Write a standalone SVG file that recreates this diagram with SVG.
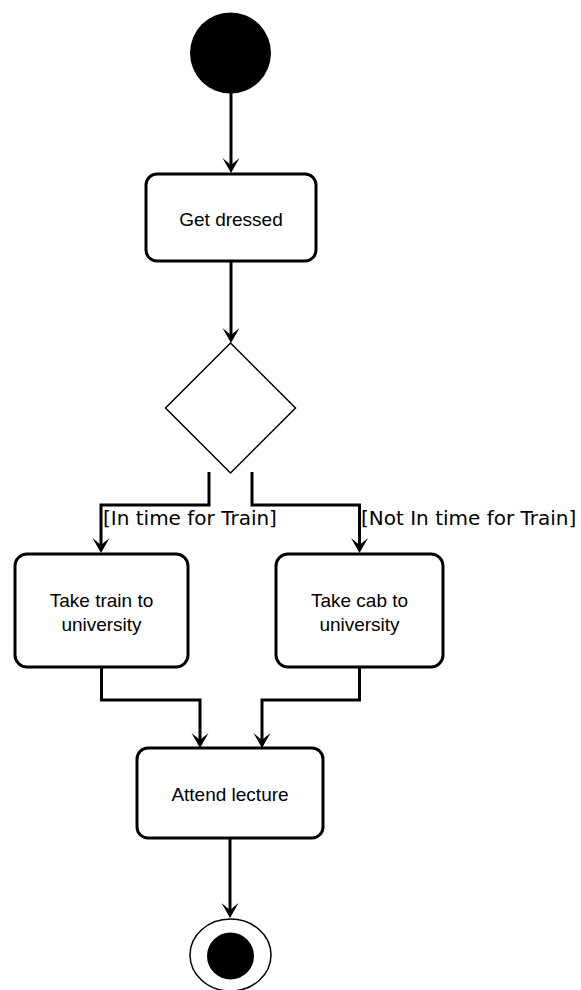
<svg xmlns="http://www.w3.org/2000/svg" width="581" height="990" viewBox="0 0 581 990">
  <style>
    .action { fill: #ffffff; stroke: #000000; stroke-width: 3; }
    .label { font-family: "Liberation Sans", Arial, sans-serif; font-size: 19px; fill: #000000; text-anchor: middle; }
    .guard { font-family: "DejaVu Sans", Verdana, sans-serif; font-size: 20px; fill: #000000; }
    .flow { fill: none; stroke: #000000; stroke-width: 3; marker-end: url(#arrow); }
  </style>
  <defs>
    <marker id="arrow" markerUnits="userSpaceOnUse" markerWidth="40" markerHeight="40" refX="0" refY="0" orient="auto" overflow="visible">
      <path d="M8,0 L-7,-8.5 L0,0 L-7,8.5 Z" fill="#000000"/>
    </marker>
  </defs>

  <!-- control flows -->
  <g id="connectors">
    <path class="flow" d="M231,93 V165"/>
    <path class="flow" d="M231,262 V335"/>
    <path class="flow" d="M209,472 V505 H101 V545"/>
    <path class="flow" d="M252,472 V505 H359.5 V545"/>
    <path class="flow" d="M101.5,667 V700 H200 V740"/>
    <path class="flow" d="M359.5,667 V700 H262 V740"/>
    <path class="flow" d="M230,838 V910"/>
    <text class="guard" x="103" y="525">[In time for Train]</text>
    <text class="guard" x="361" y="525">[Not In time for Train]</text>
  </g>

  <g id="start">
    <circle cx="230.5" cy="53" r="40.5" fill="#000000"/>
  </g>

  <g id="get-dressed">
    <rect class="action" x="146" y="174" width="170" height="87" rx="11"/>
    <text class="label" x="231" y="226">Get dressed</text>
  </g>

  <g id="decision">
    <polygon points="230.5,343 295.5,408 230.5,473 165.5,408" fill="#ffffff" stroke="#000000" stroke-width="1.5"/>
  </g>

  <g id="take-train">
    <rect class="action" x="15" y="554" width="173" height="113" rx="12"/>
    <text class="label" x="101.5" y="607">Take train to</text>
    <text class="label" x="101.5" y="631">university</text>
  </g>

  <g id="take-cab">
    <rect class="action" x="276" y="554" width="167" height="113" rx="12"/>
    <text class="label" x="359.5" y="607">Take cab to</text>
    <text class="label" x="359.5" y="631">university</text>
  </g>

  <g id="attend-lecture">
    <rect class="action" x="137" y="748" width="186" height="90" rx="11"/>
    <text class="label" x="230" y="801">Attend lecture</text>
  </g>

  <g id="end">
    <ellipse cx="230.5" cy="955" rx="40.5" ry="36" fill="#ffffff" stroke="#000000" stroke-width="1.5"/>
    <circle cx="230.5" cy="956" r="23.5" fill="#000000"/>
  </g>
</svg>
